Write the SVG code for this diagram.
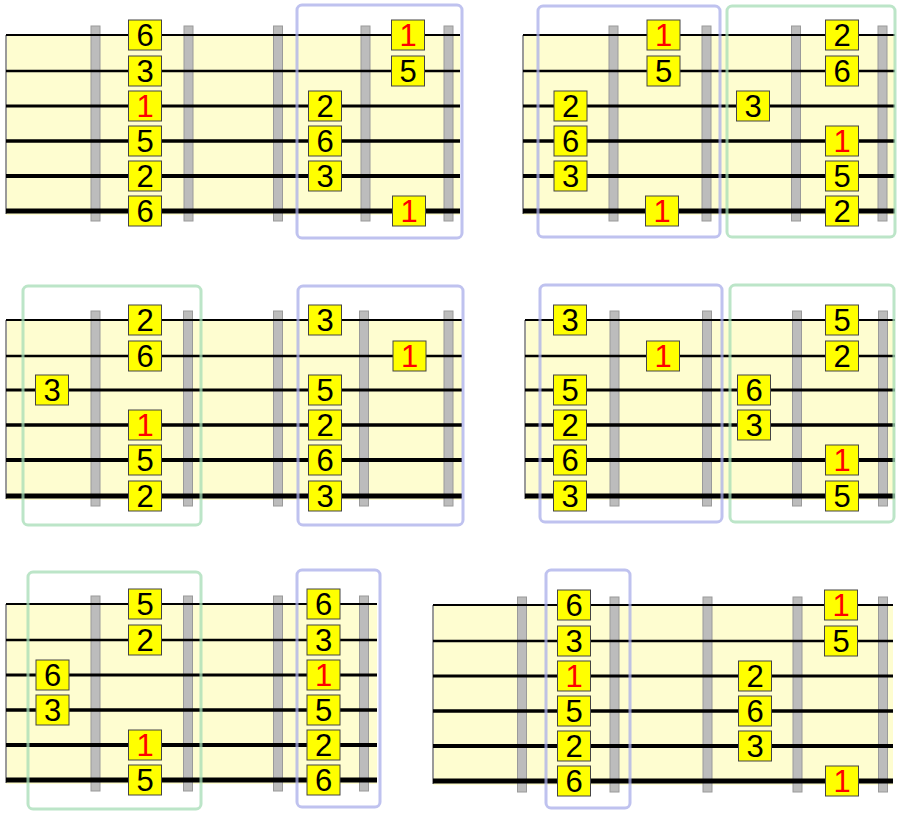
<svg xmlns="http://www.w3.org/2000/svg" width="898" height="821" viewBox="0 0 898 821">
<style>
.board{fill:#fefdd0;stroke:none}
.nut{stroke:#9a9a9a;stroke-width:2}
.fret{fill:#bcbcbc;stroke:#9a9a9a;stroke-width:1}
.s1{stroke:#000;stroke-width:2}
.s2{stroke:#000;stroke-width:2.5}
.s3{stroke:#000;stroke-width:3}
.s4{stroke:#000;stroke-width:3.5}
.s5{stroke:#000;stroke-width:4}
.s6{stroke:#000;stroke-width:5}
.note rect{fill:#ffff00;stroke:#444;stroke-width:1}
.note text{font-family:"Liberation Sans",Arial,sans-serif;font-size:31px;fill:#000;text-anchor:middle}
.note.root text{fill:#ff0000}
.hlb{fill:none;stroke:#a9aeea;stroke-width:3;stroke-opacity:0.75}
.hlg{fill:none;stroke:#a6dcb6;stroke-width:3;stroke-opacity:0.75}
</style>

<!-- Panel A -->
<g id="panelA">
<rect class="board" x="6" y="35" width="454" height="180"/>
<line class="nut" x1="6" y1="35" x2="6" y2="214"/>
<rect class="fret" x="91" y="26" width="9" height="195"/>
<rect class="fret" x="184" y="26" width="9" height="195"/>
<rect class="fret" x="273.5" y="26" width="9" height="195"/>
<rect class="fret" x="361" y="26" width="9" height="195"/>
<rect class="fret" x="444" y="26" width="9" height="195"/>
<line class="s1" x1="6" y1="35" x2="460" y2="35"/>
<line class="s2" x1="6" y1="71" x2="460" y2="71"/>
<line class="s3" x1="6" y1="106" x2="460" y2="106"/>
<line class="s4" x1="6" y1="141" x2="460" y2="141"/>
<line class="s5" x1="6" y1="176" x2="460" y2="176"/>
<line class="s6" x1="6" y1="211" x2="460" y2="211"/>
<g id="A1" class="note"><rect x="128.5" y="20" width="33" height="30"/><text x="145" y="46">6</text></g>
<g id="A2" class="note"><rect x="128.5" y="56" width="33" height="30"/><text x="145" y="82">3</text></g>
<g id="A3" class="note root"><rect x="128.5" y="91" width="33" height="30"/><text x="145" y="117">1</text></g>
<g id="A4" class="note"><rect x="128.5" y="126" width="33" height="30"/><text x="145" y="152">5</text></g>
<g id="A5" class="note"><rect x="128.5" y="161" width="33" height="30"/><text x="145" y="187">2</text></g>
<g id="A6" class="note"><rect x="128.5" y="196" width="33" height="30"/><text x="145" y="222">6</text></g>
<g id="A7" class="note"><rect x="308.5" y="91" width="33" height="30"/><text x="325" y="117">2</text></g>
<g id="A8" class="note"><rect x="308.5" y="126" width="33" height="30"/><text x="325" y="152">6</text></g>
<g id="A9" class="note"><rect x="308.5" y="161" width="33" height="30"/><text x="325" y="187">3</text></g>
<g id="A10" class="note root"><rect x="391.5" y="20" width="33" height="30"/><text x="408" y="46">1</text></g>
<g id="A11" class="note"><rect x="391.5" y="56" width="33" height="30"/><text x="408" y="82">5</text></g>
<g id="A12" class="note root"><rect x="392.5" y="196" width="33" height="30"/><text x="409" y="222">1</text></g>
<rect id="A-box" class="hlb" x="297" y="5" width="165" height="233" rx="5"/>
</g>

<!-- Panel B -->
<g id="panelB">
<rect class="board" x="523" y="35" width="372" height="180"/>
<line class="nut" x1="523" y1="35" x2="523" y2="214"/>
<rect class="fret" x="609" y="26" width="9" height="195"/>
<rect class="fret" x="702" y="26" width="9" height="195"/>
<rect class="fret" x="791.5" y="26" width="9" height="195"/>
<rect class="fret" x="878" y="26" width="9" height="195"/>
<line class="s1" x1="523" y1="35" x2="895" y2="35"/>
<line class="s2" x1="523" y1="71" x2="895" y2="71"/>
<line class="s3" x1="523" y1="106" x2="895" y2="106"/>
<line class="s4" x1="523" y1="141" x2="895" y2="141"/>
<line class="s5" x1="523" y1="176" x2="895" y2="176"/>
<line class="s6" x1="523" y1="211" x2="895" y2="211"/>
<g id="B1" class="note root"><rect x="647" y="20" width="33" height="30"/><text x="663.5" y="46">1</text></g>
<g id="B2" class="note"><rect x="647" y="56" width="33" height="30"/><text x="663.5" y="82">5</text></g>
<g id="B3" class="note root"><rect x="645.5" y="196" width="33" height="30"/><text x="662" y="222">1</text></g>
<g id="B4" class="note"><rect x="554" y="91" width="33" height="30"/><text x="570.5" y="117">2</text></g>
<g id="B5" class="note"><rect x="554" y="126" width="33" height="30"/><text x="570.5" y="152">6</text></g>
<g id="B6" class="note"><rect x="554" y="161" width="33" height="30"/><text x="570.5" y="187">3</text></g>
<g id="B7" class="note"><rect x="736.5" y="91" width="33" height="30"/><text x="753" y="117">3</text></g>
<g id="B8" class="note"><rect x="825.5" y="20" width="33" height="30"/><text x="842" y="46">2</text></g>
<g id="B9" class="note"><rect x="825.5" y="56" width="33" height="30"/><text x="842" y="82">6</text></g>
<g id="B10" class="note root"><rect x="825.5" y="126" width="33" height="30"/><text x="842" y="152">1</text></g>
<g id="B11" class="note"><rect x="825.5" y="161" width="33" height="30"/><text x="842" y="187">5</text></g>
<g id="B12" class="note"><rect x="825.5" y="196" width="33" height="30"/><text x="842" y="222">2</text></g>
<rect id="B-box1" class="hlb" x="538" y="6" width="182" height="231" rx="5"/>
<rect id="B-box2" class="hlg" x="727" y="6" width="168" height="231" rx="5"/>
</g>

<!-- Panel C -->
<g id="panelC">
<rect class="board" x="6" y="320" width="456" height="180"/>
<line class="nut" x1="6" y1="320" x2="6" y2="499"/>
<rect class="fret" x="91" y="311" width="9" height="195"/>
<rect class="fret" x="183.5" y="311" width="9" height="195"/>
<rect class="fret" x="273.5" y="311" width="9" height="195"/>
<rect class="fret" x="359.5" y="311" width="9" height="195"/>
<rect class="fret" x="444" y="311" width="9" height="195"/>
<line class="s1" x1="6" y1="320" x2="462" y2="320"/>
<line class="s2" x1="6" y1="356" x2="462" y2="356"/>
<line class="s3" x1="6" y1="390" x2="462" y2="390"/>
<line class="s4" x1="6" y1="425" x2="462" y2="425"/>
<line class="s5" x1="6" y1="460" x2="462" y2="460"/>
<line class="s6" x1="6" y1="496" x2="462" y2="496"/>
<g id="C1" class="note"><rect x="128.5" y="305" width="33" height="30"/><text x="145" y="331">2</text></g>
<g id="C2" class="note"><rect x="128.5" y="341" width="33" height="30"/><text x="145" y="367">6</text></g>
<g id="C3" class="note"><rect x="35.5" y="375" width="33" height="30"/><text x="52" y="401">3</text></g>
<g id="C4" class="note root"><rect x="128.5" y="410" width="33" height="30"/><text x="145" y="436">1</text></g>
<g id="C5" class="note"><rect x="128.5" y="445" width="33" height="30"/><text x="145" y="471">5</text></g>
<g id="C6" class="note"><rect x="128.5" y="481" width="33" height="30"/><text x="145" y="507">2</text></g>
<g id="C7" class="note"><rect x="308.5" y="305" width="33" height="30"/><text x="325" y="331">3</text></g>
<g id="C8" class="note root"><rect x="393" y="341" width="33" height="30"/><text x="409.5" y="367">1</text></g>
<g id="C9" class="note"><rect x="308.5" y="375" width="33" height="30"/><text x="325" y="401">5</text></g>
<g id="C10" class="note"><rect x="308.5" y="410" width="33" height="30"/><text x="325" y="436">2</text></g>
<g id="C11" class="note"><rect x="308.5" y="445" width="33" height="30"/><text x="325" y="471">6</text></g>
<g id="C12" class="note"><rect x="308.5" y="481" width="33" height="30"/><text x="325" y="507">3</text></g>
<rect id="C-box1" class="hlg" x="23" y="286" width="178" height="239" rx="5"/>
<rect id="C-box2" class="hlb" x="298" y="286" width="165" height="239" rx="5"/>
</g>

<!-- Panel D -->
<g id="panelD">
<rect class="board" x="525" y="320" width="370" height="180"/>
<line class="nut" x1="525" y1="320" x2="525" y2="499"/>
<rect class="fret" x="610" y="311" width="9" height="195"/>
<rect class="fret" x="702.5" y="311" width="9" height="195"/>
<rect class="fret" x="792.5" y="311" width="9" height="195"/>
<rect class="fret" x="878.5" y="311" width="9" height="195"/>
<line class="s1" x1="525" y1="320" x2="895" y2="320"/>
<line class="s2" x1="525" y1="356" x2="895" y2="356"/>
<line class="s3" x1="525" y1="390" x2="895" y2="390"/>
<line class="s4" x1="525" y1="425" x2="895" y2="425"/>
<line class="s5" x1="525" y1="460" x2="895" y2="460"/>
<line class="s6" x1="525" y1="496" x2="895" y2="496"/>
<g id="D1" class="note"><rect x="553.5" y="305" width="33" height="30"/><text x="570" y="331">3</text></g>
<g id="D2" class="note root"><rect x="646.5" y="341" width="33" height="30"/><text x="663" y="367">1</text></g>
<g id="D3" class="note"><rect x="553.5" y="375" width="33" height="30"/><text x="570" y="401">5</text></g>
<g id="D4" class="note"><rect x="553.5" y="410" width="33" height="30"/><text x="570" y="436">2</text></g>
<g id="D5" class="note"><rect x="553.5" y="445" width="33" height="30"/><text x="570" y="471">6</text></g>
<g id="D6" class="note"><rect x="553.5" y="481" width="33" height="30"/><text x="570" y="507">3</text></g>
<g id="D7" class="note"><rect x="737.5" y="375" width="33" height="30"/><text x="754" y="401">6</text></g>
<g id="D8" class="note"><rect x="737.5" y="410" width="33" height="30"/><text x="754" y="436">3</text></g>
<g id="D9" class="note"><rect x="825.5" y="305" width="33" height="30"/><text x="842" y="331">5</text></g>
<g id="D10" class="note"><rect x="825.5" y="341" width="33" height="30"/><text x="842" y="367">2</text></g>
<g id="D11" class="note root"><rect x="825.5" y="445" width="33" height="30"/><text x="842" y="471">1</text></g>
<g id="D12" class="note"><rect x="825.5" y="481" width="33" height="30"/><text x="842" y="507">5</text></g>
<rect id="D-box1" class="hlb" x="540" y="285" width="182" height="237" rx="5"/>
<rect id="D-box2" class="hlg" x="730" y="285" width="164" height="237" rx="5"/>
</g>

<!-- Panel E -->
<g id="panelE">
<rect class="board" x="6" y="604" width="371" height="180"/>
<line class="nut" x1="6" y1="604" x2="6" y2="783"/>
<rect class="fret" x="91" y="596" width="9" height="195"/>
<rect class="fret" x="183.5" y="596" width="9" height="195"/>
<rect class="fret" x="273.5" y="596" width="9" height="195"/>
<rect class="fret" x="359.5" y="596" width="9" height="195"/>
<line class="s1" x1="6" y1="604" x2="377" y2="604"/>
<line class="s2" x1="6" y1="640" x2="377" y2="640"/>
<line class="s3" x1="6" y1="675" x2="377" y2="675"/>
<line class="s4" x1="6" y1="710" x2="377" y2="710"/>
<line class="s5" x1="6" y1="745" x2="377" y2="745"/>
<line class="s6" x1="6" y1="780" x2="377" y2="780"/>
<g id="E1" class="note"><rect x="128.5" y="589" width="33" height="30"/><text x="145" y="615">5</text></g>
<g id="E2" class="note"><rect x="128.5" y="625" width="33" height="30"/><text x="145" y="651">2</text></g>
<g id="E3" class="note"><rect x="36" y="660" width="33" height="30"/><text x="52.5" y="686">6</text></g>
<g id="E4" class="note"><rect x="36" y="695" width="33" height="30"/><text x="52.5" y="721">3</text></g>
<g id="E5" class="note root"><rect x="128.5" y="730" width="33" height="30"/><text x="145" y="756">1</text></g>
<g id="E6" class="note"><rect x="128.5" y="765" width="33" height="30"/><text x="145" y="791">5</text></g>
<g id="E7" class="note"><rect x="307" y="589" width="33" height="30"/><text x="323.5" y="615">6</text></g>
<g id="E8" class="note"><rect x="307" y="625" width="33" height="30"/><text x="323.5" y="651">3</text></g>
<g id="E9" class="note root"><rect x="307" y="660" width="33" height="30"/><text x="323.5" y="686">1</text></g>
<g id="E10" class="note"><rect x="307" y="695" width="33" height="30"/><text x="323.5" y="721">5</text></g>
<g id="E11" class="note"><rect x="307" y="730" width="33" height="30"/><text x="323.5" y="756">2</text></g>
<g id="E12" class="note"><rect x="307" y="765" width="33" height="30"/><text x="323.5" y="791">6</text></g>
<rect id="E-box1" class="hlg" x="28" y="572" width="173" height="237" rx="5"/>
<rect id="E-box2" class="hlb" x="297" y="570" width="83" height="237" rx="5"/>
</g>

<!-- Panel F -->
<g id="panelF">
<rect class="board" x="433" y="605" width="460" height="180"/>
<line class="nut" x1="433" y1="605" x2="433" y2="784"/>
<rect class="fret" x="517.5" y="597" width="9" height="195"/>
<rect class="fret" x="610" y="597" width="9" height="195"/>
<rect class="fret" x="703" y="597" width="9" height="195"/>
<rect class="fret" x="793" y="597" width="9" height="195"/>
<rect class="fret" x="878.5" y="597" width="9" height="195"/>
<line class="s1" x1="433" y1="605" x2="893" y2="605"/>
<line class="s2" x1="433" y1="641" x2="893" y2="641"/>
<line class="s3" x1="433" y1="676" x2="893" y2="676"/>
<line class="s4" x1="433" y1="711" x2="893" y2="711"/>
<line class="s5" x1="433" y1="746" x2="893" y2="746"/>
<line class="s6" x1="433" y1="781" x2="893" y2="781"/>
<g id="F1" class="note"><rect x="557.5" y="590" width="33" height="30"/><text x="574" y="616">6</text></g>
<g id="F2" class="note"><rect x="557.5" y="626" width="33" height="30"/><text x="574" y="652">3</text></g>
<g id="F3" class="note root"><rect x="557.5" y="661" width="33" height="30"/><text x="574" y="687">1</text></g>
<g id="F4" class="note"><rect x="557.5" y="696" width="33" height="30"/><text x="574" y="722">5</text></g>
<g id="F5" class="note"><rect x="557.5" y="731" width="33" height="30"/><text x="574" y="757">2</text></g>
<g id="F6" class="note"><rect x="557.5" y="766" width="33" height="30"/><text x="574" y="792">6</text></g>
<g id="F7" class="note"><rect x="738.5" y="661" width="33" height="30"/><text x="755" y="687">2</text></g>
<g id="F8" class="note"><rect x="738.5" y="696" width="33" height="30"/><text x="755" y="722">6</text></g>
<g id="F9" class="note"><rect x="738.5" y="731" width="33" height="30"/><text x="755" y="757">3</text></g>
<g id="F10" class="note root"><rect x="824.5" y="590" width="33" height="30"/><text x="841" y="616">1</text></g>
<g id="F11" class="note"><rect x="824.5" y="626" width="33" height="30"/><text x="841" y="652">5</text></g>
<g id="F12" class="note root"><rect x="825.5" y="766" width="33" height="30"/><text x="842" y="792">1</text></g>
<rect id="F-box" class="hlb" x="546" y="570" width="84" height="238" rx="5"/>
</g>
</svg>
